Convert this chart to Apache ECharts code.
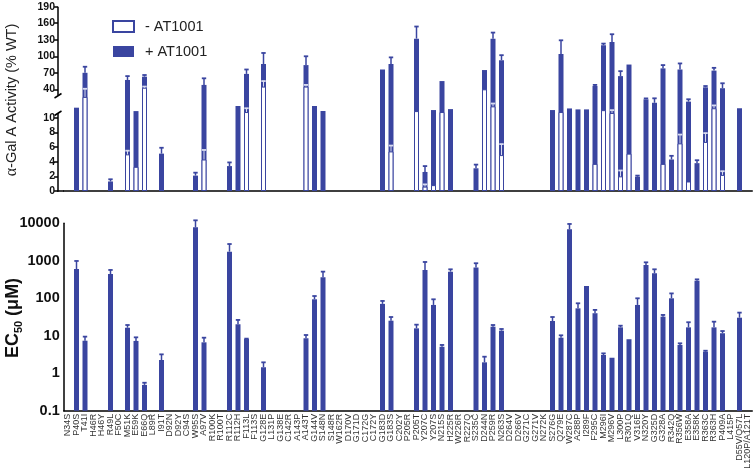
<!DOCTYPE html>
<html><head><meta charset="utf-8">
<script src="https://cdn.jsdelivr.net/npm/echarts@6/dist/echarts.min.js"></script>
<style>html,body{margin:0;padding:0;background:#fff}#c{width:756px;height:472px}</style>
</head><body><div id="c"></div>
<script>
const categories = ['N34S','P40S','T41I','H46R','H46Y','R49L','F50C','M51K','E59K','E66Q',
 'L89R','I91T','D92N','D92Y','C94S','W95S','A97V','R100K','R100T','R112C',
 'R112H','F113L','F113S','G128E','L131P','G138E','C142R','A143P','A143T','G144V',
 'S148N','S148R','W162R','D170V','G171D','C172G','C172Y','G183D','G183S','C202Y',
 'P205R','P205T','Y207C','Y207S','N215S','H225R','W226R','R227Q','S235C','D244N',
 'P259R','N263S','D264V','D266V','G271C','G271V','N272K','S276G','Q279E','W287C',
 'A288P','I289F','F295C','M296I','M296V','L300P','R301Q','V316E','N320Y','G325D',
 'G328A','R342Q','R356W','E358A','E358K','R363C','R363H','P409A','L415P','D55V/Q57L',
 'L120P/A121T'];

// α-Gal A activity (% WT), with AT1001
const actPlus = [null,20.6,70,null,null,1.3,null,57,17,63,
 null,5.1,null,null,null,2.1,48,null,null,3.4,
 22.4,68,null,86,null,null,null,null,84,22.4,
 17.1,null,null,null,null,null,null,76,86,null,
 null,132,2.6,18.1,55,19.1,null,null,3.1,75,
 132,93,null,null,null,null,null,18.1,104,19.8,
 18.8,18.8,46,120,126,64,85,1.95,29.4,25.8,
 78,4.3,76,27,3.8,43.6,74,42,null,20,
 null];
const actPlusErr = [null,0,11,null,null,0.3,null,7,0,3,
 null,0.8,null,null,null,0.4,12,null,null,0.5,
 0,8,null,20,null,null,null,null,16,0,
 0,null,null,null,null,null,null,0,12,null,
 null,22,0.8,0,0,0,null,null,0.5,0,
 11,9,null,null,null,null,null,0,25,0,
 0,0,2,3,14,9,0,0.15,1,4.7,
 6,0.5,11,2.5,0.4,2.4,5,9,null,0,
 null];
// α-Gal A activity (% WT), without AT1001
const actMinus = [null,null,32,null,null,null,null,5,3.3,43,
 null,null,null,null,null,null,4.3,null,null,null,
 null,16,null,45,null,null,null,null,45,null,
 null,null,null,null,null,null,null,null,5.4,null,
 null,17,0.6,0.8,16,null,null,null,null,40,
 22,4.9,null,null,null,null,null,null,16,null,
 null,null,3.7,18,15,2,5.1,null,null,null,
 3.7,null,6.5,1.3,null,6.7,20,2.2,null,null,
 null];
const actMinusErr = [null,null,9,null,null,null,null,0.5,0,2,
 null,null,null,null,null,null,1.3,null,null,null,
 null,4,null,10,null,null,null,null,3,null,
 null,null,null,null,null,null,null,null,0.8,null,
 null,0,0.3,0,0,null,null,null,null,0,
 3,1.5,null,null,null,null,null,null,0,null,
 null,null,0,0,3,0.8,0,null,null,null,
 0,null,1.2,0,null,1.2,3,0.5,null,null,
 null];
// EC50 (µM)
const ec50 = [null,603,7.4,null,null,445,null,16.4,7.3,0.49,
 null,2.26,null,null,null,7800,6.7,null,null,1750,
 20.3,8.2,null,1.45,null,null,null,null,8.6,94,
 362,null,null,null,null,null,null,71,25.3,null,
 null,15.8,570,66.5,5.1,514,null,null,660,1.96,
 17.5,13.7,null,null,null,null,null,24.8,8.9,6900,
 54,213,40,3.08,2.6,16.8,8.1,66.5,776,465,
 32.4,100,5.7,16.8,296,3.77,16.8,11.7,null,30.4,
 null];
const ec50Err = [null,387,2.1,null,null,125,null,3,1.8,0.07,
 null,0.94,null,null,null,4200,2.2,null,null,1050,
 6.2,0.2,null,0.51,null,null,null,null,1.9,21,
 152,null,null,null,null,null,null,14,6.4,null,
 null,4,360,27.5,0.6,79,null,null,200,0.81,
 1.9,1.5,null,null,null,null,null,6.9,1.4,2700,
 19.6,0,9,0.32,0,1.8,0,33.5,134,128,
 3.6,35,0.6,6.2,24,0.23,7,1.7,null,11.1,
 null];
const topTicks = [0,2,4,6,8,10,40,70,100,130,160,190];
const seriesNames = ['- AT1001','+ AT1001'];

const BLUE = '#3a45a0';
const FONT = '"Liberation Sans", Arial, sans-serif';
const EC_MIN = 0.1, EC_MAX = 10000;

// broken-axis scale for the activity panel: 0-10 expanded, 10-40 break, 40-190 compressed
function brk(v){
  if (v <= 10) return v * 7.33;
  if (v <= 40) return 73.3 + (v - 10) * 0.947;
  return 101.7 + (v - 40) * 0.551;
}
const tickPos = topTicks.map(brk);
function tickLabel(p){
  let best = 0, bd = 1e9;
  tickPos.forEach((t,i)=>{ const d=Math.abs(t-p); if(d<bd){bd=d;best=i;} });
  return String(topTicks[best]);
}

const plusTop = actPlus.map(v => v == null ? null : brk(v));
const minusTop = actMinus.map(v => v == null ? null : brk(v));
const plusErrData = [], minusErrData = [], ecErrData = [], ecBarData = [];
actPlus.forEach((v,i)=>{ const e=actPlusErr[i]; if(v!=null && e) plusErrData.push([i, brk(v), brk(v+e)]); });
actMinus.forEach((v,i)=>{ const e=actMinusErr[i]; if(v!=null && e) minusErrData.push([i, brk(v), brk(v+e)]); });
ec50.forEach((v,i)=>{ if(v!=null){ ecBarData.push([i, v]); const e=ec50Err[i]; if(e) ecErrData.push([i, v, v+e]); } });

function errRender(color, w){
  return function(params, api){
    const x = api.value(0);
    const p1 = api.coord([x, api.value(1)]);
    const p2 = api.coord([x, api.value(2)]);
    return {type:'group', children:[
      {type:'line', shape:{x1:p1[0],y1:p1[1],x2:p2[0],y2:p2[1]}, style:{stroke:color,lineWidth:w}},
      {type:'line', shape:{x1:p2[0]-2.2,y1:p2[1],x2:p2[0]+2.2,y2:p2[1]}, style:{stroke:color,lineWidth:1.8}}
    ]};
  };
}
// bars on the log axis drawn up from the axis floor (0.1)
function logBar(params, api){
  const i = api.value(0);
  const top = api.coord([i, api.value(1)]);
  const base = api.coord([i, EC_MIN]);
  return {type:'rect', shape:{x:top[0]-2.5, y:top[1], width:5, height:base[1]-top[1]}, style:{fill:BLUE}};
}

const chart = echarts.init(document.getElementById('c'), null, {renderer:'canvas'});
chart.setOption({
  animation:false,
  textStyle:{fontFamily:FONT},
  legend:{
    data: seriesNames, orient:'vertical', left:107, top:14,
    itemWidth:21, itemHeight:11, itemGap:10, icon:'rect',
    textStyle:{fontSize:14.5, color:'#222', fontFamily:FONT, padding:[0,0,0,6]}
  },
  grid:[
    {left:63.75, right:3.75, top:6.7, height:184.3},
    {left:63.75, right:3.75, top:223.3, height:187.5}
  ],
  xAxis:[
    {gridIndex:0, type:'category', data:categories,
     axisLine:{lineStyle:{color:'#000',width:1.5}}, axisTick:{show:false}, axisLabel:{show:false}},
    {gridIndex:1, type:'category', data:categories,
     axisLine:{lineStyle:{color:'#000',width:1.5}}, axisTick:{show:false},
     axisLabel:{interval:0, rotate:90, fontSize:9, color:'#333', margin:3, fontFamily:FONT}}
  ],
  yAxis:[
    {gridIndex:0, type:'value', min:0, max:brk(190), offset:5.75,
     axisLine:{show:false}, splitLine:{show:false},
     axisTick:{show:true, length:4, lineStyle:{color:'#000',width:1.5}, customValues:tickPos},
     axisLabel:{customValues:tickPos, formatter:tickLabel, fontWeight:'bold', fontSize:10.5, color:'#111', margin:3, fontFamily:FONT}},
    {gridIndex:1, type:'log', logBase:10, min:EC_MIN, max:EC_MAX,
     axisLine:{show:true, lineStyle:{color:'#000',width:1.5}}, splitLine:{show:false},
     axisTick:{length:4, lineStyle:{color:'#000',width:1.5}}, minorTick:{show:false},
     axisLabel:{fontWeight:'bold', fontSize:14.5, color:'#111', margin:4, fontFamily:FONT,
       formatter: v => v >= 1 ? String(Math.round(v)) : String(+v.toFixed(1))}}
  ],
  series:[
    {name:'+ AT1001', type:'bar', xAxisIndex:0, yAxisIndex:0, data:plusTop, barWidth:5,
     itemStyle:{color:BLUE}, z:2},
    {name:'- AT1001', type:'bar', xAxisIndex:0, yAxisIndex:0, data:minusTop, barWidth:5, barGap:'-100%',
     itemStyle:{color:'#fff', borderColor:BLUE, borderWidth:1}, z:3},
    {type:'custom', xAxisIndex:0, yAxisIndex:0, data:plusErrData, renderItem:errRender(BLUE,1.5), z:4, silent:true},
    {type:'custom', xAxisIndex:0, yAxisIndex:0, data:minusErrData, renderItem:errRender('#d8dbf0',1), z:5, silent:true},
    {name:'EC50', type:'custom', xAxisIndex:1, yAxisIndex:1, data:ecBarData, renderItem:logBar, z:2, silent:true},
    {type:'custom', xAxisIndex:1, yAxisIndex:1, data:ecErrData, renderItem:errRender(BLUE,1.5), z:4, silent:true}
  ],
  graphic:[
    {type:'line', shape:{x1:58,y1:6.7,x2:58,y2:95.5}, style:{stroke:'#000',lineWidth:1.5}},
    {type:'line', shape:{x1:58,y1:113,x2:58,y2:191.7}, style:{stroke:'#000',lineWidth:1.5}},
    {type:'line', shape:{x1:54.5,y1:98,x2:61.5,y2:93.5}, style:{stroke:'#000',lineWidth:1.5}},
    {type:'line', shape:{x1:54.5,y1:115.5,x2:61.5,y2:111}, style:{stroke:'#000',lineWidth:1.5}},
    {type:'line', shape:{x1:57.25,y1:191,x2:64,y2:191}, style:{stroke:'#000',lineWidth:1.5}},
    {type:'text', x:12, y:100, rotation:Math.PI/2,
     style:{text:'{a|α}-Gal A Activity (% WT)', align:'center', verticalAlign:'middle',
       textAlign:'center', textVerticalAlign:'middle', fill:'#222', fontSize:14.5, fontFamily:FONT,
       rich:{a:{fontFamily:'"Liberation Serif", serif', fontSize:16, fill:'#222'}}}},
    {type:'text', x:13, y:318, rotation:Math.PI/2,
     style:{text:'{b|EC}{s|50}{b| (μM)}', align:'center', verticalAlign:'middle',
       textAlign:'center', textVerticalAlign:'middle', fill:'#111', fontFamily:FONT,
       rich:{b:{fontSize:18, fontWeight:'bold', fill:'#111', lineHeight:22, verticalAlign:'middle'},
             s:{fontSize:11, fontWeight:'bold', fill:'#111', lineHeight:22, verticalAlign:'bottom', padding:[9,0,0,0]}}}}
  ]
});
</script></body></html>
